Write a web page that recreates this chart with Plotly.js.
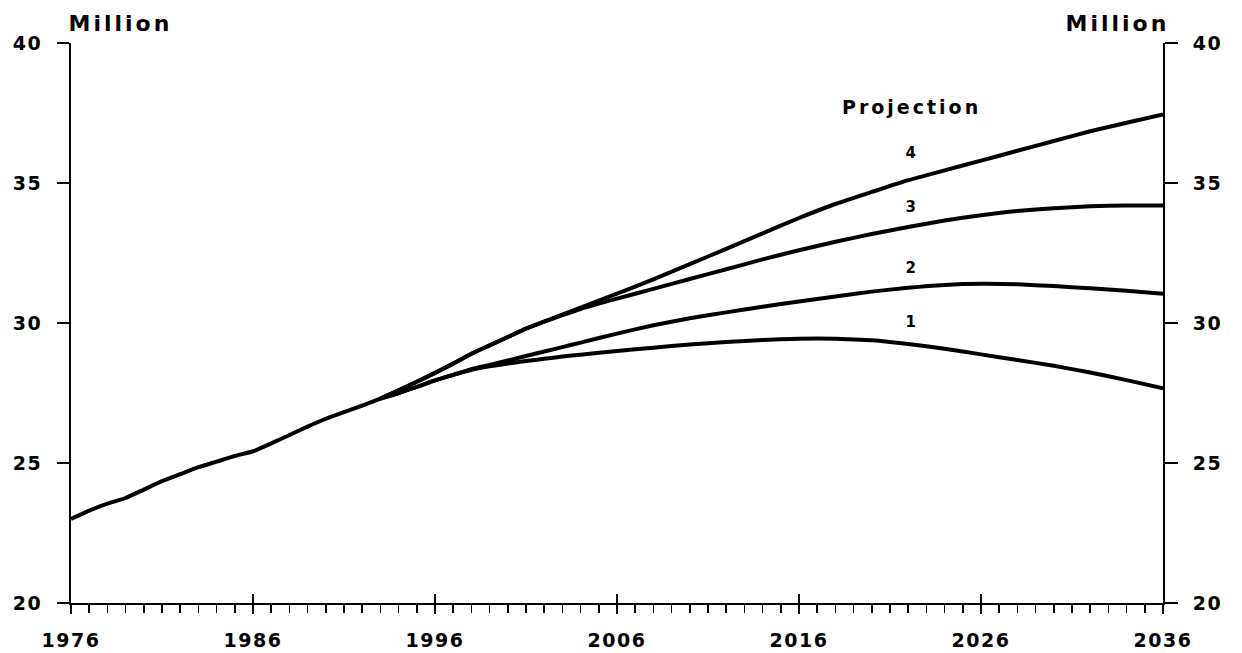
<!DOCTYPE html>
<html>
<head>
<meta charset="utf-8">
<script src="https://cdn.plot.ly/plotly-3.0.1.min.js"></script>
<style>
  html, body { margin: 0; padding: 0; background: #fff; }
  #chart { width: 1242px; height: 653px; }
  #chart svg text { letter-spacing: 1.5px; }
  #chart svg .annotation-text { letter-spacing: 3px; }
</style>
</head>
<body>
<div id="chart"></div>
<script>
// Historical (common) series
const histYears  = [1976,1977,1978,1979,1980,1981,1982,1983,1984,1985,1986,1987,1988,1989,1990,1991,1992,1993];
const histValues = [23.0,23.3,23.55,23.75,24.05,24.35,24.6,24.85,25.05,25.25,25.42,25.7,26.0,26.3,26.58,26.82,27.05,27.3];

// Projections
const p4Years  = [1993,1994,1995,1996,1997,1998,1999,2000,2001,2002,2003,2004,2005,2006,2007,2008,2010,2012,2014,2016,2018,2020,2022,2024,2026,2028,2030,2032,2034,2036];
const p4Values = [27.3,27.6,27.9,28.22,28.55,28.9,29.2,29.5,29.8,30.05,30.3,30.55,30.8,31.05,31.3,31.56,32.1,32.65,33.2,33.75,34.25,34.68,35.1,35.45,35.8,36.15,36.5,36.85,37.15,37.45];

const p3Years  = [1993,1994,1995,1996,1997,1998,1999,2000,2001,2002,2003,2004,2006,2008,2010,2012,2014,2016,2018,2020,2022,2024,2026,2028,2030,2032,2034,2036];
const p3Values = [27.3,27.6,27.9,28.22,28.55,28.9,29.2,29.5,29.8,30.05,30.28,30.5,30.87,31.22,31.57,31.92,32.27,32.6,32.9,33.18,33.43,33.66,33.85,34.0,34.1,34.17,34.2,34.2];

const p2Years  = [1993,1994,1995,1996,1997,1998,1999,2000,2001,2002,2003,2004,2006,2008,2010,2012,2014,2016,2018,2020,2022,2024,2026,2028,2030,2032,2034,2036];
const p2Values = [27.3,27.5,27.72,27.95,28.15,28.35,28.5,28.66,28.82,28.98,29.14,29.3,29.62,29.92,30.17,30.38,30.58,30.77,30.95,31.12,31.26,31.36,31.4,31.38,31.32,31.24,31.15,31.04];

const p1Years  = [1993,1994,1995,1996,1997,1998,1999,2000,2001,2002,2003,2004,2006,2008,2010,2012,2014,2016,2018,2020,2022,2024,2026,2028,2030,2032,2034,2036];
const p1Values = [27.3,27.5,27.72,27.95,28.15,28.33,28.45,28.55,28.64,28.72,28.8,28.87,29.0,29.12,29.23,29.32,29.39,29.44,29.44,29.38,29.25,29.08,28.88,28.68,28.47,28.23,27.96,27.67];

const projLabels = ['1','2','3','4'];
const labelYear = 2022.2;
const labelValues = [30.04, 31.96, 34.14, 36.07];

const xTickVals = [1976,1986,1996,2006,2016,2026,2036];
const yTickVals = [20,25,30,35,40];

const FONT = 'DejaVu Sans, Arial, sans-serif';
const lineStyle = {color: '#000', width: 4, shape: 'spline', smoothing: 0.5};

function tr(x, y) {
  return {x: x, y: y, type: 'scatter', mode: 'lines', line: lineStyle, hoverinfo: 'skip', showlegend: false};
}

const traces = [
  tr(histYears, histValues),
  tr(p1Years, p1Values),
  tr(p2Years, p2Values),
  tr(p3Years, p3Values),
  tr(p4Years, p4Values),
  {x: [1976, 2036], y: [20, 40], xaxis: 'x2', yaxis: 'y2', mode: 'none', type: 'scatter', hoverinfo: 'skip', showlegend: false}
];

const annotations = [
  {text: '<b>Million</b>', xref: 'paper', yref: 'paper', x: 0, y: 1, xanchor: 'left', yanchor: 'bottom', yshift: 5, xshift: 6, showarrow: false, font: {family: FONT, size: 22, color: '#000'}},
  {text: '<b>Million</b>', xref: 'paper', yref: 'paper', x: 1, y: 1, xanchor: 'right', yanchor: 'bottom', yshift: 5, xshift: -2, showarrow: false, font: {family: FONT, size: 22, color: '#000'}},
  {text: '<b>Projection</b>', xref: 'x', yref: 'y', x: labelYear, y: 37.71, showarrow: false, font: {family: FONT, size: 19, color: '#000'}}
];
projLabels.forEach((t, i) => {
  annotations.push({text: '<b>' + t + '</b>', xref: 'x', yref: 'y', x: labelYear, y: labelValues[i], showarrow: false, font: {family: FONT, size: 15, color: '#000'}});
});

const tickFont = {family: FONT, size: 19, color: '#000', weight: 'bold'};

const layout = {
  width: 1242, height: 653,
  margin: {l: 71, r: 79, t: 43, b: 50},
  paper_bgcolor: '#fff', plot_bgcolor: '#fff',
  showlegend: false,
  xaxis: {
    range: [1976, 2036], tickvals: xTickVals, ticktext: xTickVals.map(String),
    showgrid: false, zeroline: false, showline: true, linecolor: '#000', linewidth: 2,
    ticks: 'outside', ticklen: 9, tickwidth: 2, tickcolor: '#000',
    minor: {dtick: 1, tick0: 1976, ticks: 'outside', ticklen: 8, tickwidth: 1.5, tickcolor: '#000', showgrid: false},
    tickfont: tickFont, ticklabelstandoff: 10, fixedrange: true
  },
  xaxis2: {
    overlaying: 'x', side: 'bottom', anchor: 'y', range: [1976, 2036], tickvals: xTickVals,
    showticklabels: false, showgrid: false, zeroline: false, showline: false,
    ticks: 'inside', ticklen: 9, tickwidth: 2, tickcolor: '#000', fixedrange: true
  },
  yaxis: {
    range: [20, 40], tickvals: yTickVals, ticktext: yTickVals.map(String),
    showgrid: false, zeroline: false, showline: true, linecolor: '#000', linewidth: 2,
    ticks: 'outside', ticklen: 12, tickwidth: 2, tickcolor: '#000',
    tickfont: tickFont, ticklabelstandoff: 11, fixedrange: true
  },
  yaxis2: {
    overlaying: 'y', side: 'right', anchor: 'x', range: [20, 40], tickvals: yTickVals, ticktext: yTickVals.map(String),
    showgrid: false, zeroline: false, showline: true, linecolor: '#000', linewidth: 2,
    ticks: 'outside', ticklen: 13, tickwidth: 2, tickcolor: '#000',
    tickfont: tickFont, ticklabelstandoff: 11, fixedrange: true
  },
  annotations: annotations
};

Plotly.newPlot('chart', traces, layout, {displayModeBar: false, staticPlot: true});
</script>
</body>
</html>
